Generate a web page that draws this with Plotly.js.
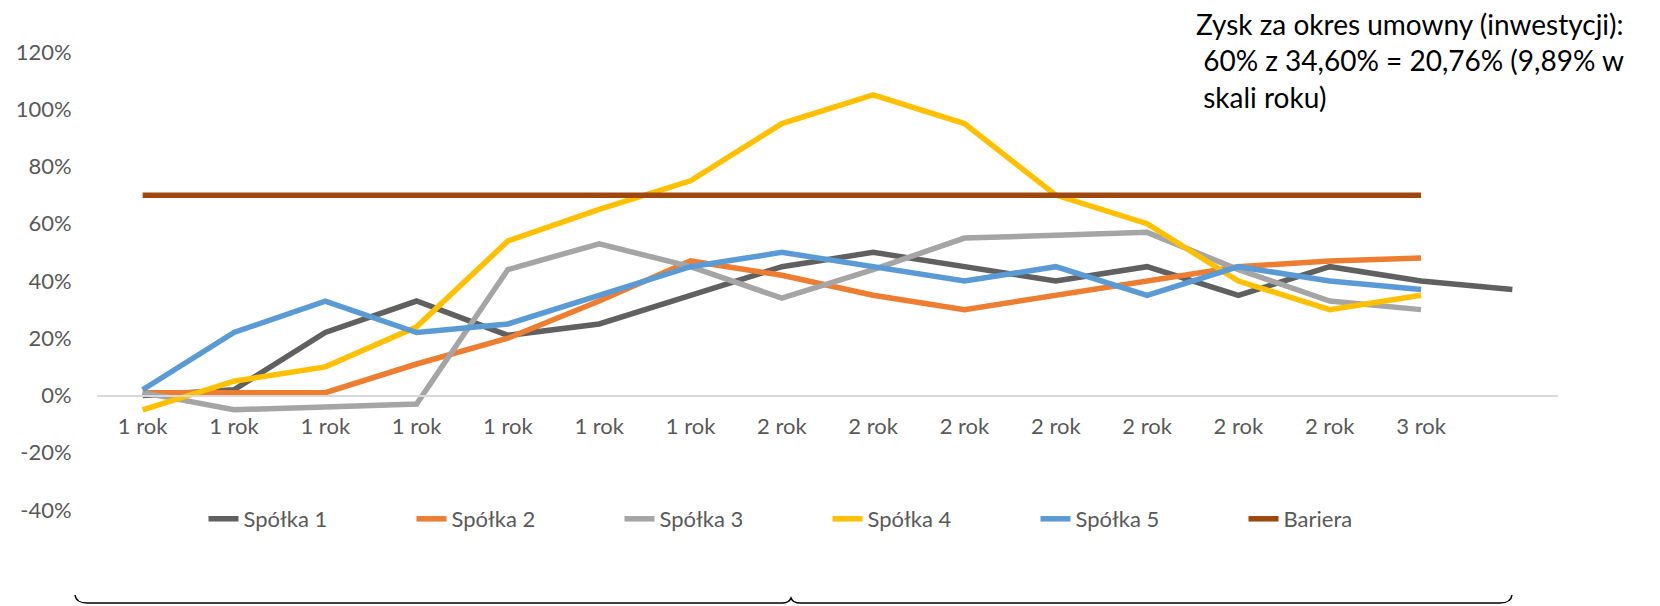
<!DOCTYPE html>
<html>
<head>
<meta charset="utf-8">
<script src="https://cdn.plot.ly/plotly-3.0.1.min.js"></script>
<style>
  html, body { margin: 0; padding: 0; background: #ffffff; }
  #chart { width: 1660px; height: 606px; }
</style>
</head>
<body>
<div id="chart"></div>
<script>
// ---- data ----
const categories = ['1 rok','1 rok','1 rok','1 rok','1 rok','1 rok','1 rok',
                    '2 rok','2 rok','2 rok','2 rok','2 rok','2 rok','2 rok',
                    '3 rok',''];
const seriesNames = ['Spółka 1','Spółka 2','Spółka 3','Spółka 4','Spółka 5','Bariera'];
const spolka1 = [0, 2, 22, 33, 21, 25, 35, 45, 50, 45, 40, 45, 35, 45, 40, 37];
const spolka2 = [1, 1, 1, 11, 20, 33, 47, 42, 35, 30, 35, 40, 45, 47, 48];
const spolka3 = [1, -5, -4, -3, 44, 53, 45, 34, 44, 55, 56, 57, 44, 33, 30];
const spolka4 = [-5, 5, 10, 24, 54, 65, 75, 95, 105, 95, 70, 60, 40, 30, 35];
const spolka5 = [2, 22, 33, 22, 25, 35, 45, 50, 45, 40, 45, 35, 45, 40, 37];
const bariera = [70, 70, 70, 70, 70, 70, 70, 70, 70, 70, 70, 70, 70, 70, 70];
const yTickVals = [-40, -20, 0, 20, 40, 60, 80, 100, 120];
const yTickText = ['-40%', '-20%', '0%', '20%', '40%', '60%', '80%', '100%', '120%'];
const noteLines = ['Zysk za okres umowny (inwestycji):',
                   ' 60% z 34,60% = 20,76% (9,89% w',
                   ' skali roku)'];

// ---- styling ----
const colors = ['#606060', '#ED7D31', '#A5A5A5', '#FFC000', '#5B9BD5', '#9E480E'];
const allSeries = [spolka1, spolka2, spolka3, spolka4, spolka5, bariera];
const xIdx = categories.map((_, i) => i);
const FONT = 'Lato, "Open Sans", sans-serif';
const yRange = [-40, 120];

const traces = allSeries.map((vals, k) => ({
  type: 'scatter',
  mode: 'lines',
  name: seriesNames[k],
  x: xIdx.slice(0, vals.length),
  y: vals,
  line: { color: colors[k], width: 5.5 },
  hoverinfo: 'x+y+name'
}));

// plot area in pixels
const W = 1660, H = 606;
const M = { l: 97, r: 102, t: 52, b: 96 };
const pw = W - M.l - M.r, ph = H - M.t - M.b;
const px = v => (v - M.l) / pw;
const py = v => (H - M.b - v) / ph;

const bracePath =
  `M ${px(75)},${py(595)} Q ${px(76)},${py(603)} ${px(87)},${py(603)} ` +
  `L ${px(782)},${py(603)} Q ${px(789)},${py(603)} ${px(791)},${py(598)} ` +
  `Q ${px(793)},${py(603)} ${px(800)},${py(603)} ` +
  `L ${px(1500)},${py(603)} Q ${px(1511)},${py(603)} ${px(1512)},${py(595)}`;

const layout = {
  width: W, height: H,
  margin: M,
  paper_bgcolor: '#ffffff',
  plot_bgcolor: '#ffffff',
  font: { family: FONT, color: '#595959', size: 22 },
  showlegend: true,
  legend: {
    orientation: 'h',
    x: 0.5, xanchor: 'center',
    y: py(519), yanchor: 'middle',
    font: { family: FONT, size: 22, color: '#595959' },
    entrywidth: 163,
    bgcolor: 'rgba(0,0,0,0)'
  },
  xaxis: {
    range: [-0.5, categories.length - 0.5],
    tickvals: xIdx,
    ticktext: categories,
    anchor: 'free',
    position: (0 - yRange[0]) / (yRange[1] - yRange[0]),
    showgrid: false,
    zeroline: false,
    showline: true,
    linecolor: '#D9D9D9',
    linewidth: 2,
    ticks: 'outside',
    ticklen: 11,
    tickcolor: 'rgba(0,0,0,0)',
    tickfont: { family: FONT, size: 22, color: '#595959' },
    fixedrange: true
  },
  yaxis: {
    range: yRange,
    tickvals: yTickVals,
    ticktext: yTickText,
    showgrid: false,
    zeroline: false,
    showline: false,
    ticks: 'outside',
    ticklen: 20,
    tickcolor: 'rgba(0,0,0,0)',
    tickfont: { family: FONT, size: 22, color: '#595959' },
    fixedrange: true
  },
  annotations: [{
    xref: 'paper', yref: 'paper',
    x: px(1194), y: py(5),
    xanchor: 'left', yanchor: 'top',
    align: 'left',
    showarrow: false,
    text: noteLines.join('<br>'),
    font: { family: FONT, size: 28, color: '#000000' }
  }],
  shapes: [{
    type: 'path',
    xref: 'paper', yref: 'paper',
    path: bracePath,
    line: { color: '#000000', width: 1.5 }
  }]
};

Plotly.newPlot('chart', traces, layout, { displayModeBar: false, staticPlot: true });
</script>
</body>
</html>
